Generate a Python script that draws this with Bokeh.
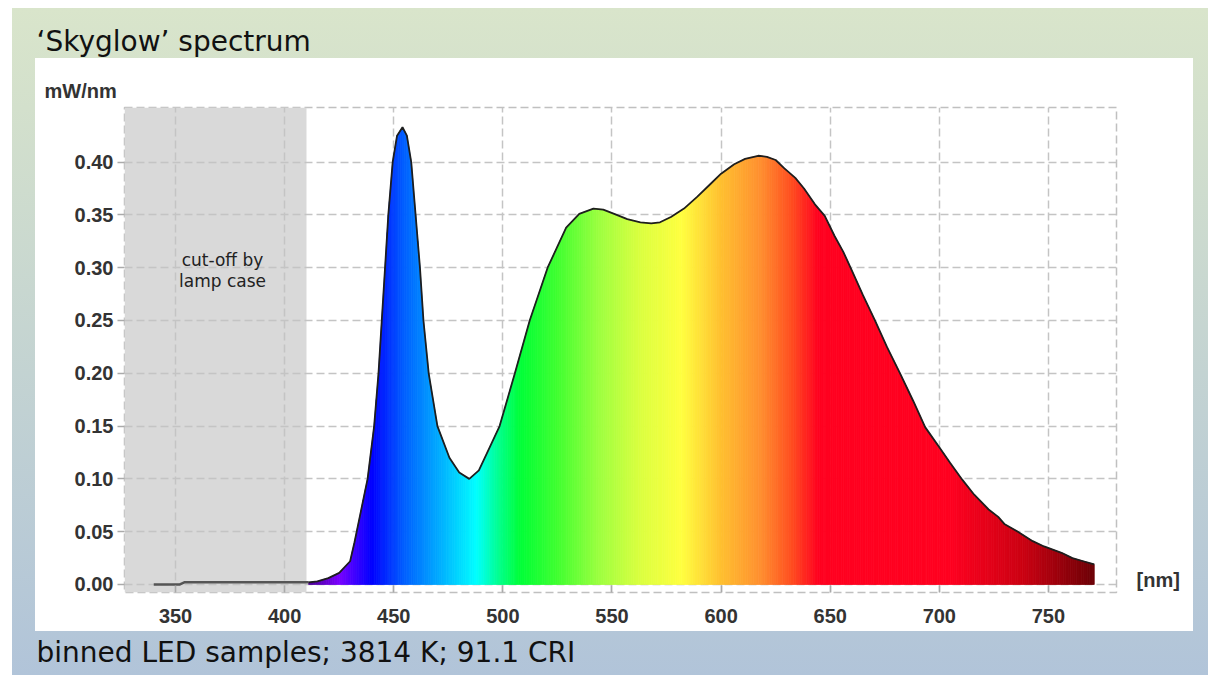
import numpy as np
from bokeh.plotting import figure
from bokeh.layouts import column, row
from bokeh.models import Spacer, Label, Range1d, BoxAnnotation, PrintfTickFormatter
from bokeh.core.properties import value
from bokeh.embed import file_html
from bokeh.resources import INLINE

# ---------------- data ----------------
title_text = "\u2018Skyglow\u2019 spectrum"
caption_text = "binned LED samples; 3814 K; 91.1 CRI"
y_unit_label = "mW/nm"
x_unit_label = "[nm]"
cutoff_lines = ["cut-off by", "lamp case"]

x_ticks = [350, 400, 450, 500, 550, 600, 650, 700, 750]
y_ticks = [0.00, 0.05, 0.10, 0.15, 0.20, 0.25, 0.30, 0.35, 0.40]

# region hidden by the lamp case
cutoff_start = 326.6
cutoff_end = 410.0
cutoff_wl = [340, 352, 354, 411]
cutoff_val = [0.000, 0.000, 0.002, 0.002]

# measured spectrum (mW/nm)
wavelength = [411, 415, 420, 425, 430, 432, 435, 438, 441, 443, 444.5, 446, 447.5,
              449.5, 451.5, 454, 456, 458, 460, 462, 463.6, 466, 470, 475.5, 480,
              484.6, 489, 494, 498.5, 505.5, 512.3, 520.5, 529, 535, 541.5, 546,
              551, 557, 563, 568, 572, 577, 583, 589, 595, 600, 606, 611, 617,
              621, 625, 629, 634, 638, 643, 647.5, 652, 656, 660, 665, 670.5, 676,
              682, 688, 693.5, 700, 705, 710.6, 716, 722.6, 727, 730, 736, 742.8,
              748, 752, 756, 761, 766, 771]
power = [0.002, 0.003, 0.006, 0.011, 0.022, 0.040, 0.070, 0.100, 0.150, 0.200, 0.250,
         0.300, 0.350, 0.400, 0.425, 0.433, 0.425, 0.400, 0.350, 0.300, 0.250, 0.200,
         0.150, 0.120, 0.106, 0.100, 0.108, 0.130, 0.150, 0.200, 0.250, 0.300, 0.338,
         0.351, 0.356, 0.355, 0.351, 0.346, 0.343, 0.342, 0.343, 0.348, 0.356, 0.367,
         0.379, 0.389, 0.398, 0.403, 0.406, 0.405, 0.402, 0.394, 0.385, 0.375, 0.360,
         0.349, 0.330, 0.315, 0.297, 0.274, 0.250, 0.225, 0.200, 0.174, 0.149, 0.130,
         0.115, 0.099, 0.085, 0.071, 0.064, 0.057, 0.050, 0.041, 0.036, 0.033, 0.030,
         0.025, 0.022, 0.019]

# colour of the visible spectrum by wavelength
color_wl = [411, 425, 440, 455, 470, 488, 498, 508, 525, 545, 562, 582, 600, 618,
            632, 645, 705, 738, 771]
color_hex = ["#4a0090", "#7a00ff", "#0000ff", "#0060ff", "#00a8ff", "#00ffff",
             "#00ff90", "#00ff38", "#40ff30", "#a0ff40", "#d8ff40", "#ffff40",
             "#ffc030", "#ff9030", "#ff5020", "#ff0020", "#ff0020", "#cc0012",
             "#6c0006"]

# ---------------- helpers ----------------
def hex_rgb(h):
    return [int(h[i:i + 2], 16) for i in (1, 3, 5)]

stops = np.array([hex_rgb(c) for c in color_hex], dtype=float)

def color_at(w):
    r = np.interp(w, color_wl, stops[:, 0])
    g = np.interp(w, color_wl, stops[:, 1])
    b = np.interp(w, color_wl, stops[:, 2])
    return "#%02x%02x%02x" % (int(round(r)), int(round(g)), int(round(b)))

# gradient fill: thin trapezoids lying exactly under the measured polyline
edges = np.union1d(np.arange(wavelength[0], wavelength[-1] + 0.001, 1.0), wavelength)
tops = np.interp(edges, wavelength, power)
xs, ys, cols = [], [], []
for i in range(len(edges) - 1):
    a, b = edges[i], edges[i + 1]
    xs.append([a, a, b, b])
    ys.append([0.0, tops[i], tops[i + 1], 0.0])
    cols.append(color_at(0.5 * (a + b)))

FONT_AX = "Liberation Sans"
FONT_TXT = "DejaVu Sans"


def text_box(w, h, tx, ty, txt, font, size, style="normal", color="#111111", bg=None):
    """A bare figure whose frame is its whole canvas, used to hold one text."""
    f = figure(width=w, height=h, output_backend="svg", toolbar_location=None,
               x_range=Range1d(0, w), y_range=Range1d(0, h), min_border=0,
               x_axis_location=None, y_axis_location=None)
    f.grid.visible = False
    f.border_fill_color = bg
    f.background_fill_color = bg
    f.outline_line_color = None
    f.text(x=[tx], y=[ty], text=[txt], text_font=value(font), text_font_size=size,
           text_font_style=style, text_color=color, text_baseline="middle",
           text_align="left")
    return f

# ---------------- main chart ----------------
p = figure(width=1090, height=531, output_backend="svg", toolbar_location=None,
           x_range=Range1d(326.6, 781.2), y_range=Range1d(-0.0076, 0.4517),
           min_border_left=89, min_border_right=9, min_border_top=7,
           min_border_bottom=39)
p.border_fill_color = "white"
p.background_fill_color = "white"
p.outline_line_color = "#c0c0c0"
p.outline_line_dash = "8 4"
p.outline_line_width = 1.5

p.xaxis.ticker = x_ticks
p.yaxis.ticker = y_ticks
p.yaxis.formatter = PrintfTickFormatter(format="%.2f")
for ax in (p.xaxis, p.yaxis):
    ax.axis_line_color = None
    ax.minor_tick_line_color = None
    ax.major_tick_line_color = "#aaaaaa"
    ax.major_tick_line_width = 1.5
    ax.major_label_text_font = FONT_AX
    ax.major_label_text_font_style = "bold"
    ax.major_label_text_font_size = "20px"
    ax.major_label_text_color = "#333333"
p.yaxis.major_tick_out = 7
p.yaxis.major_tick_in = 0
p.yaxis.major_label_standoff = 4
p.xaxis.major_tick_out = 0
p.xaxis.major_tick_in = 7
p.xaxis.major_label_standoff = 16

p.grid.grid_line_color = "#c4c4c4"
p.grid.grid_line_dash = "8 4"
p.grid.grid_line_width = 1.5

p.add_layout(BoxAnnotation(left=cutoff_start, right=cutoff_end, fill_color="#d9d9d9",
                           fill_alpha=1.0, line_color=None, level="image"))

p.patches(xs=xs, ys=ys, fill_color=cols, line_color=cols, line_width=0.8)
p.line(cutoff_wl, cutoff_val, line_color="#555555", line_width=2.5)
p.line(wavelength, power, line_color="#1e1e1e", line_width=1.8)

p.add_layout(Label(x=371.5, y=0.307, text=cutoff_lines[0], text_align="center",
                   text_baseline="middle", text_font=FONT_TXT,
                   text_font_size="17px", text_color="#222222"))
p.add_layout(Label(x=371.5, y=0.287, text=cutoff_lines[1], text_align="center",
                   text_baseline="middle", text_font=FONT_TXT,
                   text_font_size="17px", text_color="#222222"))

# unit labels in their own white boxes next to the chart
unit_box = text_box(1158, 42, 9, 10, y_unit_label, FONT_AX, "20px", "bold", "#333333",
                    "white")
nm_box = text_box(68, 531, 11, 14, x_unit_label, FONT_AX, "20px", "bold", "#333333",
                  "white")

# ---------------- title / caption strips ----------------
top = text_box(1196, 50, 24, 17, title_text, FONT_TXT, "28px", "normal", "#111111", None)
bottom = text_box(1196, 44, 24, 23, caption_text, FONT_TXT, "28px", "normal", "#111111",
                  None)

white_block = column(unit_box, row(p, nm_box), styles={"background": "white"})
middle = row(Spacer(width=23, height=573), white_block, Spacer(width=15, height=573))
panel = column(top, middle, bottom,
               styles={"background": "linear-gradient(180deg, #d9e5cb 0%, #d3e0cc 15%, #b1c4d9 100%)"})
layout = column(Spacer(width=1208, height=8), row(Spacer(width=12, height=667), panel))

open("out.html", "w").write(file_html(layout, INLINE))
